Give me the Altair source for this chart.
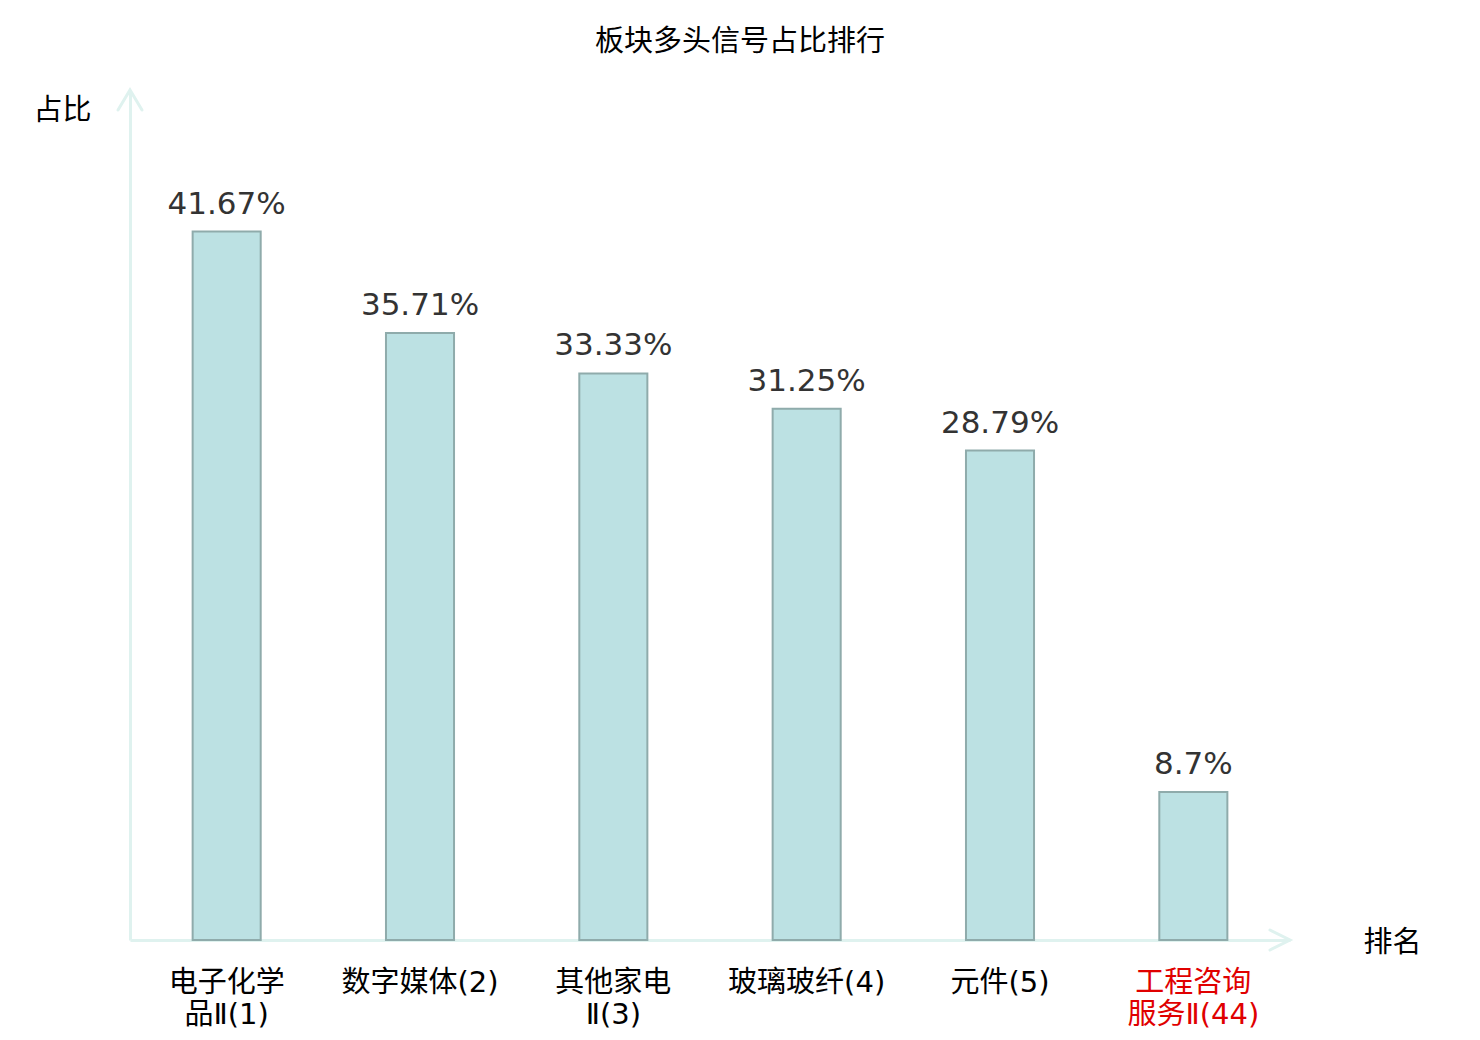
import altair as alt
import pandas as pd

# ---- data ----
categories = ["电子化学\n品Ⅱ(1)", "数字媒体(2)", "其他家电\nⅡ(3)", "玻璃玻纤(4)", "元件(5)", "工程咨询\n服务Ⅱ(44)"]
values = [41.67, 35.71, 33.33, 31.25, 28.79, 8.7]
value_labels = ["41.67%", "35.71%", "33.33%", "31.25%", "28.79%", "8.7%"]

df = pd.DataFrame({"cat": categories, "val": values, "lab": value_labels})

AXIS_COLOR = "#dff2ef"
FONT = "DejaVu Sans, Noto Sans CJK SC"

x_enc = alt.X(
    "cat:N",
    sort=categories,
    scale=alt.Scale(paddingInner=0.648, paddingOuter=0.324),
    axis=alt.Axis(
        title="排名",
        titleX=1262,
        titleY=2,
        titleAlign="center",
        titleBaseline="middle",
        titleFont=FONT,
        titleFontSize=29,
        titleFontWeight="normal",
        titleColor="#000000",
        labelExpr="split(datum.label, '\\n')",
        labelAngle=0,
        labelFont=FONT,
        labelFontSize=29,
        labelLineHeight=32,
        labelBaseline="top",
        labelPadding=28,
        labelLimit=0,
        labelColor=alt.condition("indexof(datum.value, '(44)') >= 0", alt.value("#e00000"), alt.value("#000000")),
        ticks=False,
        tickSize=0,
        domainColor=AXIS_COLOR,
        domainWidth=3,
        grid=False,
    ),
)

y_scale = alt.Scale(domain=[0, 50], nice=False)

bars = alt.Chart(df).mark_bar(
    fill="#bce1e3", stroke="#8fabab", strokeWidth=2
).encode(
    x=x_enc,
    y=alt.Y(
        "val:Q",
        scale=y_scale,
        axis=alt.Axis(
            title="占比",
            titleAngle=0,
            titleX=-68,
            titleY=20,
            titleAlign="center",
            titleBaseline="middle",
            titleFont=FONT,
            titleFontSize=29,
            titleFontWeight="normal",
            titleColor="#000000",
            labels=False,
            ticks=False,
            tickSize=0,
            grid=False,
            domainColor=AXIS_COLOR,
            domainWidth=3,
        ),
    ),
)

texts = alt.Chart(df).mark_text(
    font="DejaVu Sans", fontSize=31, color="#333333", baseline="alphabetic", dy=-18
).encode(
    x=alt.X("cat:N", sort=categories),
    y=alt.Y("val:Q", scale=y_scale),
    text="lab:N",
)

arrow_up = alt.Chart(pd.DataFrame({"v": [50]})).mark_point(
    shape="M-1.2,2L0,0L1.2,2", filled=False, size=400,
    stroke=AXIS_COLOR, strokeWidth=3, opacity=1, strokeCap="round"
).encode(
    x=alt.value(0),
    y=alt.Y("v:Q", scale=y_scale),
)

arrow_right = alt.Chart(pd.DataFrame({"v": [0]})).mark_point(
    shape="M-2,-1L0,0L-2,1", filled=False, size=400,
    stroke=AXIS_COLOR, strokeWidth=3, opacity=1, strokeCap="round"
).encode(
    x=alt.value(1160),
    y=alt.Y("v:Q", scale=y_scale),
)

chart = alt.layer(bars, texts, arrow_up, arrow_right).properties(
    width=1160,
    height=850,
    title=alt.TitleParams(
        text="板块多头信号占比排行",
        font=FONT,
        fontSize=29,
        fontWeight="normal",
        color="#000000",
        anchor="middle",
        frame="group",
        dx=30,
        dy=36,
        offset=34,
        baseline="bottom",
    ),
    autosize=alt.AutoSizeParams(type="none"),
    padding={"left": 122, "top": 82, "right": 170, "bottom": 92},
).configure_view(stroke=None)

chart.save("out.html", embed_options={"renderer": "svg", "actions": False})
